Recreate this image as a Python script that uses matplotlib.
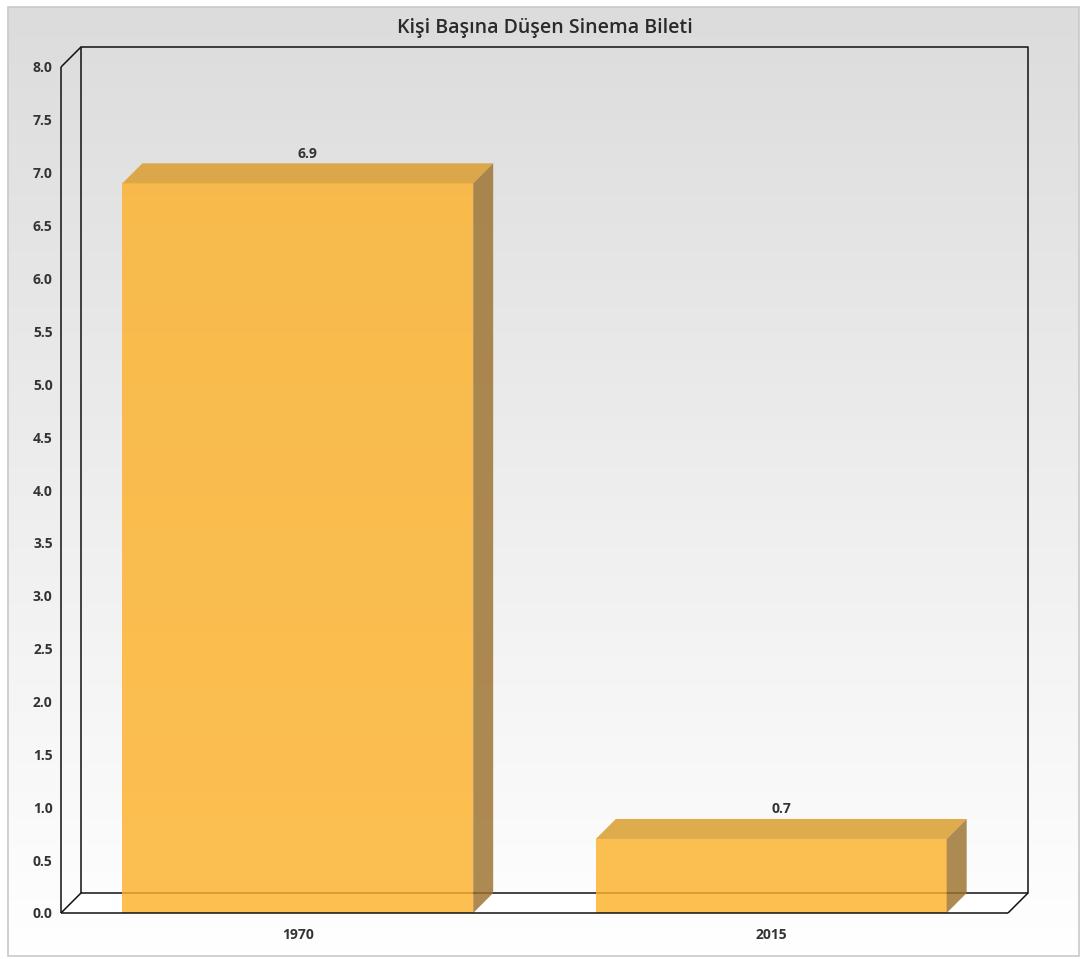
import numpy as np
import matplotlib
matplotlib.use("Agg")
import matplotlib.pyplot as plt
from matplotlib.patches import Polygon, Rectangle

plt.rcParams['font.family'] = ['Open Sans', 'DejaVu Sans']

# Data
categories = ["1970", "2015"]
values = [6.9, 0.7]
value_labels = ["6.9", "0.7"]
y_ticks = [0.0, 0.5, 1.0, 1.5, 2.0, 2.5, 3.0, 3.5, 4.0, 4.5, 5.0, 5.5, 6.0, 6.5, 7.0, 7.5, 8.0]
title = "Kişi Başına Düşen Sinema Bileti"

W, H = 1082, 959
fig = plt.figure(figsize=(W / 100, H / 100), dpi=100)
fig.patch.set_facecolor("white")

# Background panel with a vertical grey-to-white gradient
bg = fig.add_axes([0, 0, 1, 1])
bg.set_xlim(0, W)
bg.set_ylim(H, 0)
bg.axis("off")
grad = np.linspace(0, 1, 256).reshape(-1, 1)
top_c = np.array([220, 220, 220]) / 255
bot_c = np.array([255, 255, 255]) / 255
img = top_c[None, None, :] * (1 - grad[..., None]) + bot_c[None, None, :] * grad[..., None]
bg.imshow(img, extent=(8, 1079, 956, 7), aspect="auto", zorder=0)
bg.add_patch(Rectangle((8, 7), 1071, 949, fill=False, edgecolor="#c9c9c9", lw=1.2, zorder=1))
bg.text(545, 28, title, ha="center", va="center", fontsize=14,
        fontweight="semibold", color="#2a2a2a")

# Front plane of the plot
left, right, top, bottom = 61, 1008, 67, 913
ax = fig.add_axes([left / W, (H - bottom) / H, (right - left) / W, (bottom - top) / H])
ax.set_facecolor("none")
ax.set_xlim(-0.5, 1.5)
ax.set_ylim(0, 8)
for s in ax.spines.values():
    s.set_visible(False)

tick_font = dict(fontsize=10, fontweight="bold", color="#333333")
x = np.arange(len(categories))
ax.set_xticks(x)
ax.set_xticklabels(categories, **tick_font)
ax.set_yticks(y_ticks)
ax.set_yticklabels([f"{t:.1f}" for t in y_ticks], **tick_font)
ax.tick_params(axis="both", length=0)
ax.tick_params(axis="y", pad=6)
ax.tick_params(axis="x", pad=11)

# Depth offset of the pseudo-3D frame, converted from pixels to data units
depth_px = 20
dx = depth_px * 2.0 / (right - left)
dy = depth_px * 8.0 / (bottom - top)
x0, x1, y0, y1 = -0.5, 1.5, 0.0, 8.0
line_kw = dict(color="#111111", lw=1.1, clip_on=False, solid_capstyle="butt")

# Floor
ax.add_patch(Polygon([(x0, y0), (x1, y0), (x1 + dx, y0 + dy), (x0 + dx, y0 + dy)],
                     closed=True, facecolor="white", edgecolor="none", zorder=1, clip_on=False))
# Back frame
ax.plot([x0 + dx, x0 + dx, x1 + dx, x1 + dx, x0 + dx],
        [y0 + dy, y1 + dy, y1 + dy, y0 + dy, y0 + dy], zorder=2, **line_kw)
# Side connectors and front edges
ax.plot([x0, x0 + dx], [y1, y1 + dy], zorder=2, **line_kw)
ax.plot([x0, x0 + dx], [y0, y0 + dy], zorder=2, **line_kw)
ax.plot([x1, x1 + dx], [y0, y0 + dy], zorder=2, **line_kw)
ax.plot([x0, x0], [y0, y1], zorder=2, **line_kw)

# Bars with top and side faces
bar_w = 0.741
front_c, top_col, side_c = "#FCB12A", "#DA9B27", "#9C712C"
alpha = 0.82
for xi, v, lab in zip(x, values, value_labels):
    a, b = xi - bar_w / 2, xi + bar_w / 2
    ax.add_patch(Polygon([(a, 0), (b, 0), (b, v), (a, v)], closed=True,
                         facecolor=front_c, edgecolor="none", alpha=alpha, zorder=3, clip_on=False))
    ax.add_patch(Polygon([(a, v), (b, v), (b + dx, v + dy), (a + dx, v + dy)], closed=True,
                         facecolor=top_col, edgecolor="none", alpha=alpha, zorder=3, clip_on=False))
    ax.add_patch(Polygon([(b, 0), (b + dx, dy), (b + dx, v + dy), (b, v)], closed=True,
                         facecolor=side_c, edgecolor="none", alpha=alpha, zorder=3, clip_on=False))
    ax.annotate(lab, (xi + dx / 2, v + dy), xytext=(0, 2), textcoords="offset points",
                ha="center", va="bottom", fontsize=10, fontweight="bold",
                color="#333333", zorder=6)

# Front bottom edge on top of the bars
ax.plot([x0, x1], [y0, y0], zorder=5, **line_kw)

fig.savefig("out.png", dpi=100, facecolor="white")
